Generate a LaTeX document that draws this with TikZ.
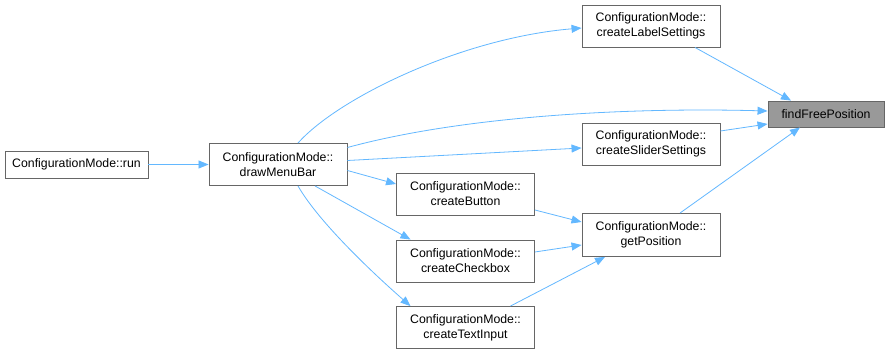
\documentclass[tikz,border=0pt]{standalone}
\usepackage{fontspec}
\setmainfont{Liberation Sans}
\usetikzlibrary{arrows.meta}
\definecolor{edgeblue}{HTML}{63B8FF}
\definecolor{boxline}{HTML}{666666}
\definecolor{hilite}{HTML}{999999}
\tikzset{
  fn/.style={draw=boxline, line width=0.9pt, fill=white, inner sep=0pt, align=center,
    font=\fontsize{12.3}{15}\selectfont, text=black},
  fnwide/.style={fn, minimum width=138pt, minimum height=42pt},
  call/.style={draw=edgeblue, line width=0.8pt, -{Triangle[length=10pt,width=8pt]}, color=edgeblue},
}
\begin{document}
\begin{tikzpicture}[x=1pt,y=-1pt]
\useasboundingbox[fill=white] (0,0) rectangle (889,355);

% functions
\node[fn, minimum width=143pt, minimum height=27pt] (run) at (76.5,164.5) {ConfigurationMode::run};
\node[fnwide] (menu) at (278,164.5) {ConfigurationMode::\\drawMenuBar};
\node[fnwide] (label) at (651,26) {ConfigurationMode::\\createLabelSettings};
\node[fnwide] (slider) at (651,144) {ConfigurationMode::\\createSliderSettings};
\node[fnwide] (button) at (465.5,194) {ConfigurationMode::\\createButton};
\node[fnwide] (check) at (465.5,261) {ConfigurationMode::\\createCheckbox};
\node[fnwide] (text) at (465.5,327.5) {ConfigurationMode::\\createTextInput};
\node[fnwide, minimum height=43pt] (pos) at (651,235) {ConfigurationMode::\\getPosition};
\node[fn, fill=hilite, minimum width=116pt, minimum height=26pt] (free) at (826,114) {findFreePosition};

% calls (yshift is in page units: positive is upward)
\draw[call] (run.east) -- (menu.west);
\draw[call] ([xshift=20pt]menu.north) .. controls +(40,-45) and +(-120,10) .. ([yshift=-2pt]label.west);
\draw[call] ([yshift=17pt]menu.east) .. controls +(110,-30) and +(-150,-4) .. ([yshift=3pt]free.west);
\draw[call] ([yshift=4pt]menu.east) -- ([yshift=-4pt]slider.west);
\draw[call] ([yshift=-6pt]menu.east) -- ([yshift=10pt]button.west);
\draw[call] ([xshift=37pt]menu.south) -- ([xshift=-55pt]check.north);
\draw[call] ([xshift=20pt]menu.south) .. controls +(20,35) and +(-40,-35) .. ([xshift=-55pt]text.north);
\draw[call] (label.south) ++(44pt,0) -- ([xshift=-35pt]free.north);
\draw[call] ([yshift=13pt]slider.east) -- ([yshift=-10pt]free.west);
\draw[call] (pos.north) ++(29pt,0) -- ([xshift=-26pt]free.south);
\draw[call] ([yshift=-16pt]button.east) -- ([yshift=13pt]pos.west);
\draw[call] ([yshift=9pt]check.east) -- ([yshift=-10pt]pos.west);
\draw[call] ([xshift=45pt]text.north) -- ([xshift=-46pt]pos.south);
\end{tikzpicture}
\end{document}
